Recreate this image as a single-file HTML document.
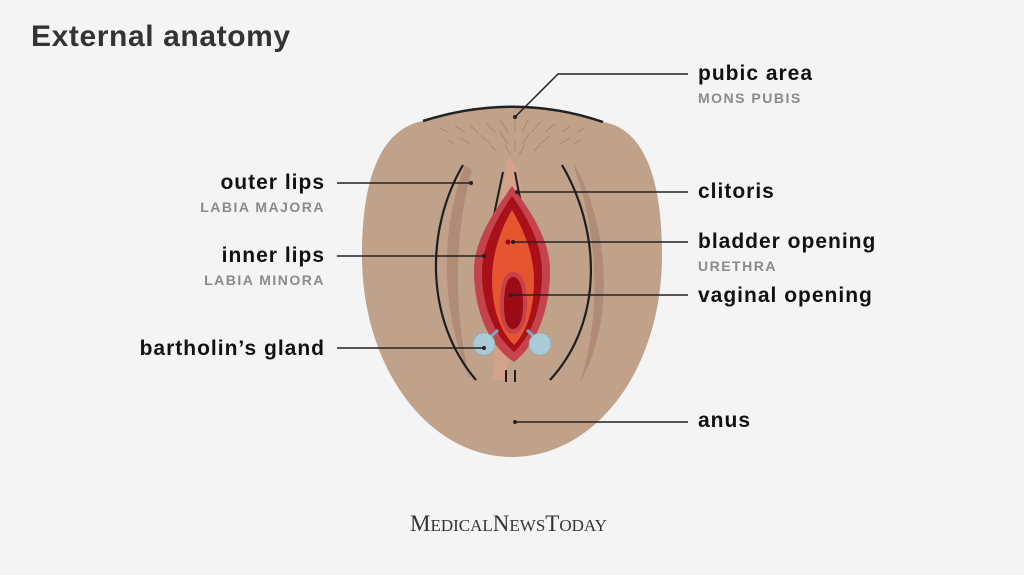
<!DOCTYPE html>
<html><head><style>
body{margin:0;width:1024px;height:575px;background:#f4f4f4;overflow:hidden;font-family:"Liberation Sans",Arial,sans-serif}
svg{position:absolute;left:0;top:0}
</style></head><body>
<svg width="1024" height="575" viewBox="0 0 1024 575">
<text x="31" y="46" font-size="30" font-weight="bold" fill="#333" letter-spacing="0.6" font-family="Liberation Sans">External anatomy</text>
<path d="M423 121 Q515 92 603 122 C640 128 662 170 662 255 C662 370 595 457 512 457 C430 457 362 370 362 255 C362 170 385 128 423 121 Z" fill="#c0a18a"/>
<path d="M423 121 Q515 92 603 122" fill="none" stroke="#222" stroke-width="2.5"/>
<g stroke="#8a7463" stroke-width="0.8" opacity="0.6">
<path d="M440 128 l8 4 M455 126 l10 6 M470 125 l8 8 M485 122 l10 10 M500 120 l8 12 M515 118 l0 14 M528 120 l-6 12 M540 122 l-8 10 M555 124 l-10 8 M570 126 l-8 6 M585 128 l-8 4 M460 138 l10 6 M480 135 l10 8 M500 132 l8 12 M530 133 l-8 11 M550 136 l-10 8 M570 138 l-10 6 M505 145 l6 10 M525 145 l-6 10 M448 140 l6 4 M490 145 l6 6 M515 140 l0 12 M540 145 l-6 6 M580 140 l-6 4"/>
</g>
<path d="M465 165 C440 230 440 310 470 380 C455 320 452 240 472 170Z" fill="#b08c78"/>
<path d="M575 165 C610 230 615 320 580 383 C600 320 600 240 575 170Z" fill="#b08c78"/>
<path d="M463 165 C425 230 425 320 476 380" fill="none" stroke="#1e1e1e" stroke-width="2.2"/>
<path d="M562 165 C600 230 605 320 550 380" fill="none" stroke="#1e1e1e" stroke-width="2.2"/>
<path d="M508 158 C518 158 525 200 528 230 L505 380 L493 380 C498 300 496 200 508 158Z" fill="#d4a28a"/>
<path d="M503 172 C497 200 494 215 492 225 M515 172 C520 200 524 215 527 225" stroke="#1e1e1e" stroke-width="2" fill="none"/>
<path d="M506 370 L506 382 M515 370 L515 382" stroke="#1e1e1e" stroke-width="2"/>
<path d="M512 186 C530 210 550 240 550 270 C550 320 530 350 514 362 C495 350 474 320 474 270 C474 240 495 210 512 186Z" fill="#c5434a"/>
<path d="M512 196 C528 218 542 245 542 272 C542 315 527 340 514 352 C500 340 482 315 482 272 C482 245 497 218 512 196Z" fill="#a8101a"/>
<path d="M512 210 C524 230 534 255 534 280 C534 315 524 335 514 345 C504 335 492 315 492 280 C492 255 500 230 512 210Z" fill="#e55630"/>
<path d="M513 272 C523 272 527 285 527 305 C527 325 520 334 513 334 C506 334 500 325 500 305 C500 285 504 272 513 272Z" fill="#c8404a"/>
<path d="M513 277 C520 277 523 288 523 305 C523 322 518 329 513 329 C508 329 504 322 504 305 C504 288 507 277 513 277Z" fill="#9a0b15"/>
<circle cx="508" cy="242" r="2.5" fill="#9a0b15"/>
<path d="M498 330 L485 342 M527 330 L540 342" stroke="#7ea6bd" stroke-width="3"/>
<circle cx="484" cy="344" r="11" fill="#a9cbd8" stroke="#7ea6bd" stroke-dasharray="2 2"/>
<circle cx="540" cy="344" r="11" fill="#a9cbd8" stroke="#7ea6bd" stroke-dasharray="2 2"/>
<g stroke="#222" stroke-width="1.5" fill="none">
<path d="M515 117 L558 74 L688 74"/>
<path d="M337 183 L471 183"/>
<path d="M517 192 L688 192"/>
<path d="M513 242 L688 242"/>
<path d="M337 256 L484 256"/>
<path d="M511 295 L688 295"/>
<path d="M337 348 L484 348"/>
<path d="M515 422 L688 422"/>
</g>
<g fill="#222"><circle cx="515" cy="117" r="2"/><circle cx="471" cy="183" r="2"/><circle cx="517" cy="192" r="2"/><circle cx="513" cy="242" r="2"/><circle cx="484" cy="256" r="2"/><circle cx="511" cy="295" r="2"/><circle cx="484" cy="348" r="2"/><circle cx="515" cy="422" r="2"/></g>
<g font-family="Liberation Sans" font-weight="bold" fill="#111" font-size="21" letter-spacing="1">
<text x="698" y="80">pubic area</text>
<text x="698" y="198">clitoris</text>
<text x="698" y="248">bladder opening</text>
<text x="698" y="302">vaginal opening</text>
<text x="698" y="427">anus</text>
<text x="325" y="189" text-anchor="end">outer lips</text>
<text x="325" y="262" text-anchor="end">inner lips</text>
<text x="325" y="355" text-anchor="end">bartholin’s gland</text>
</g>
<g font-family="Liberation Sans" font-weight="bold" fill="#8a8a8a" font-size="14" letter-spacing="1.5">
<text x="698" y="103">MONS PUBIS</text>
<text x="698" y="271">URETHRA</text>
<text x="325" y="212" text-anchor="end">LABIA MAJORA</text>
<text x="325" y="285" text-anchor="end">LABIA MINORA</text>
</g>
<text x="410" y="531" font-family="Liberation Serif" font-size="23" fill="#333">M<tspan font-size="17">EDICAL</tspan>N<tspan font-size="17">EWS</tspan>T<tspan font-size="17">ODAY</tspan></text>
</svg>
</body></html>
